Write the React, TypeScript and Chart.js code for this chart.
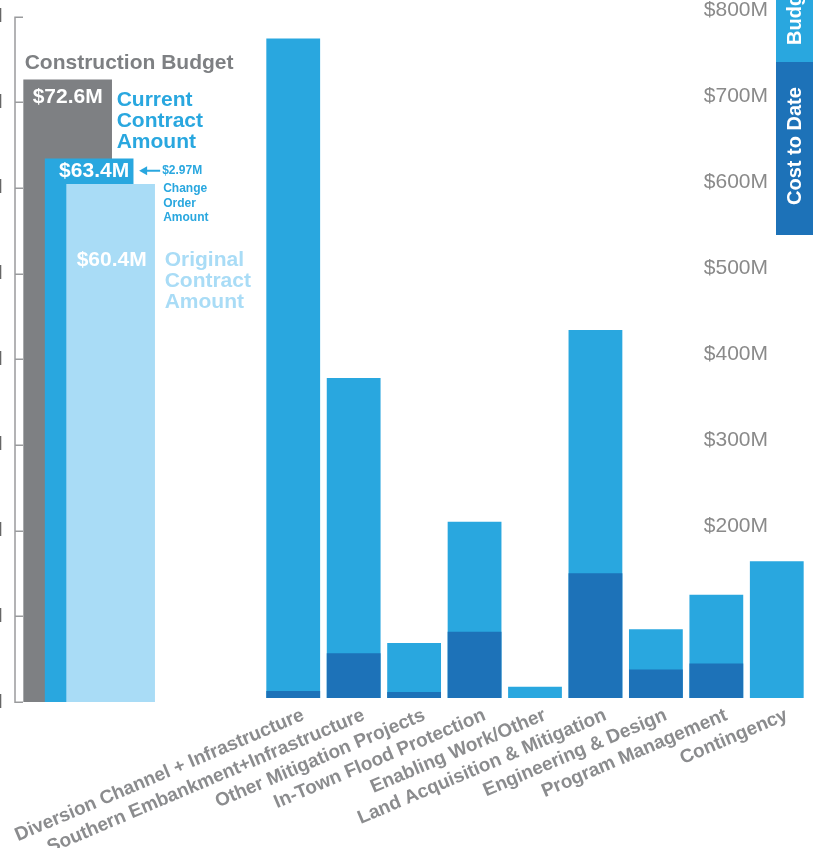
import React, { useEffect, useRef } from 'react';
import { Chart, registerables } from 'chart.js';

Chart.register(...registerables);

// ---------- data ----------
const categories = [
  'Diversion Channel + Infrastructure',
  'Southern Embankment+Infrastructure',
  'Other Mitigation Projects',
  'In-Town Flood Protection',
  'Enabling Work/Other',
  'Land Acquisition & Mitigation',
  'Engineering & Design',
  'Program Management',
  'Contingency',
];
const budget = [767, 372, 64, 205, 13, 428, 80, 120, 159];
const costToDate = [8, 52, 7, 77, 0, 145, 33, 40, 0];
const seriesNames = ['Cost to Date', 'Budget'];

const contractLabels = ['Construction Budget', 'Current Contract Amount', 'Original Contract Amount'];
const contractValues = [72.6, 63.4, 60.4];
const changeOrderAmount = 2.97;
const changeOrderLabel = ['Change', 'Order', 'Amount'];

// ---------- styles ----------
const FONT = "'Liberation Sans', Arial, Helvetica, sans-serif";
const BLUE = '#29a7df';
const DARK = '#1d72b8';
const GRAY = '#7e8083';
const LIGHT = '#a9dcf6';
const TEXT_GRAY = '#8b8c8e';
const AXIS_GRAY = '#9a9b9d';

const fmtM = (v: number) => `$${v.toFixed(1)}M`;

const sideLegend = {
  id: 'sideLegend',
  afterDraw(chart: any) {
    const ctx = chart.ctx;
    const w = 37;
    const x = chart.width - w;
    const ds = chart.data.datasets;
    const boxes = [
      { d: ds[1], y0: 0, y1: 62, textBottom: 45 },
      { d: ds[0], y0: 62, y1: 235, textBottom: 205 },
    ];
    ctx.save();
    boxes.forEach((b) => {
      ctx.fillStyle = b.d.backgroundColor;
      ctx.fillRect(x, b.y0, w, b.y1 - b.y0);
      ctx.save();
      ctx.translate(x + w / 2 + 0.5, b.textBottom);
      ctx.rotate(-Math.PI / 2);
      ctx.fillStyle = '#ffffff';
      ctx.font = `bold 20px ${FONT}`;
      ctx.textAlign = 'left';
      ctx.textBaseline = 'middle';
      ctx.fillText(b.d.label, 0, 0);
      ctx.restore();
    });
    ctx.restore();
  },
};

// ruler-style axis: vertical line with inward tick marks, from the y scale's own ticks
const ruler = {
  id: 'ruler',
  beforeDatasetsDraw(chart: any) {
    const ctx = chart.ctx;
    const s = chart.scales.y;
    const x = s.right;
    ctx.save();
    ctx.strokeStyle = AXIS_GRAY;
    ctx.lineWidth = 1.5;
    ctx.beginPath();
    ctx.moveTo(x, s.top);
    ctx.lineTo(x, s.bottom);
    s.ticks.forEach((_t: any, i: number) => {
      const y = Math.round(s.getPixelForTick(i)) + 0.25;
      ctx.moveTo(x - 0.75, y);
      ctx.lineTo(x + 8, y);
    });
    ctx.stroke();
    ctx.restore();
  },
};

const insetLabels = {
  id: 'insetLabels',
  afterDatasetsDraw(chart: any) {
    const ctx = chart.ctx;
    const els = chart.getDatasetMeta(0).data;
    const vals = chart.data.datasets[0].data.map((p: any) => p.y);
    const colors = chart.data.datasets[0].backgroundColor;
    const big = `bold 21px ${FONT}`;
    const small = `bold 12px ${FONT}`;
    ctx.save();
    ctx.textBaseline = 'middle';
    ctx.textAlign = 'left';

    // gray: construction budget
    const g = els[0];
    const gL = g.x - g.width / 2;
    const gR = g.x + g.width / 2;
    ctx.font = big;
    ctx.fillStyle = colors[0];
    ctx.fillText(contractLabels[0], gL + 1, g.y - 17);
    ctx.fillStyle = '#ffffff';
    ctx.fillText(fmtM(vals[0]), gL + 9, g.y + 17);

    // current contract label next to gray bar
    ctx.fillStyle = colors[1];
    ['Current', 'Contract', 'Amount'].forEach((t, i) => ctx.fillText(t, gR + 5, g.y + 20 + i * 21));

    // blue: current contract
    const b = els[1];
    const bR = b.x + b.width / 2;
    ctx.fillStyle = '#ffffff';
    ctx.textAlign = 'center';
    ctx.fillText(fmtM(vals[1]), b.x + 5, b.y + 12);

    // change order arrow + text
    ctx.fillStyle = colors[1];
    ctx.strokeStyle = colors[1];
    const ay = b.y + 12;
    const ax = bR + 6;
    ctx.beginPath();
    ctx.moveTo(ax, ay);
    ctx.lineTo(ax + 8, ay - 4.5);
    ctx.lineTo(ax + 8, ay + 4.5);
    ctx.closePath();
    ctx.fill();
    ctx.lineWidth = 2;
    ctx.beginPath();
    ctx.moveTo(ax + 7, ay);
    ctx.lineTo(ax + 21, ay);
    ctx.stroke();
    ctx.textAlign = 'left';
    ctx.font = small;
    ctx.fillText(`$${changeOrderAmount.toFixed(2)}M`, ax + 23, ay);
    changeOrderLabel.forEach((t, i) => ctx.fillText(t, ax + 24, ay + 18 + i * 14.5));

    // light: original contract
    const l = els[2];
    const lL = l.x - l.width / 2;
    const lR = l.x + l.width / 2;
    ctx.font = big;
    ctx.fillStyle = '#ffffff';
    ctx.fillText(fmtM(vals[2]), lL + 10, l.y + 76);
    ctx.fillStyle = colors[2];
    ['Original', 'Contract', 'Amount'].forEach((t, i) => ctx.fillText(t, lR + 10, l.y + 76 + i * 21));
    ctx.restore();
  },
};

export default function App() {
  const mainRef = useRef<HTMLCanvasElement>(null);
  const insetRef = useRef<HTMLCanvasElement>(null);

  useEffect(() => {
    const main = new Chart(mainRef.current as HTMLCanvasElement, {
      type: 'bar',
      data: {
        labels: categories,
        datasets: [
          {
            label: seriesNames[0],
            data: costToDate,
            backgroundColor: DARK,
            grouped: false,
            order: 0,
            categoryPercentage: 1,
            barPercentage: 0.89,
          },
          {
            label: seriesNames[1],
            data: budget,
            backgroundColor: BLUE,
            grouped: false,
            order: 1,
            categoryPercentage: 1,
            barPercentage: 0.89,
          },
        ],
      } as any,
      options: {
        responsive: false,
        maintainAspectRatio: false,
        animation: false,
        layout: { padding: { top: 10, left: 263, right: 0, bottom: 0 } },
        plugins: { legend: { display: false }, tooltip: { enabled: false } },
        scales: {
          x: {
            grid: { display: false, drawTicks: false },
            border: { display: false },
            ticks: {
              autoSkip: false,
              maxRotation: 23,
              minRotation: 23,
              padding: 6,
              labelOffset: 10,
              color: TEXT_GRAY,
              font: { family: FONT, size: 19, weight: 'bold' },
            },
            afterFit: (s: any) => {
              s.height = 150;
              s.paddingLeft = 0;
              s.paddingRight = 0;
            },
          },
          y: {
            position: 'right',
            min: 0,
            max: 800,
            grid: { display: false, drawTicks: false },
            border: { display: false },
            ticks: {
              stepSize: 100,
              mirror: true,
              padding: -39,
              color: '#8a8a8a',
              font: { family: FONT, size: 21 },
              callback: (v: any) => (v >= 200 ? `$${v}M` : ''),
            },
            afterFit: (s: any) => {
              s.width = 6;
              s.paddingTop = 0;
              s.paddingBottom = 0;
            },
          },
        },
      } as any,
      plugins: [sideLegend],
    });

    const inset = new Chart(insetRef.current as HTMLCanvasElement, {
      type: 'bar',
      data: {
        labels: contractLabels,
        datasets: [
          {
            label: 'Construction',
            data: contractValues.map((v, i) => ({ x: i, y: v })),
            backgroundColor: [GRAY, BLUE, LIGHT],
            barThickness: 88,
          },
        ],
      } as any,
      options: {
        responsive: false,
        maintainAspectRatio: false,
        animation: false,
        layout: { padding: { top: 16.5, bottom: 146, left: 0, right: 0 } },
        plugins: { legend: { display: false }, tooltip: { enabled: false } },
        scales: {
          x: { type: 'linear', min: -2.45, max: 8.95, offset: false, display: false },
          y: {
            min: 0,
            max: 80,
            ticks: {
              stepSize: 10,
              padding: 12,
              color: '#666666',
              font: { family: FONT, size: 20 },
              callback: (v: any) => `$${v}M`,
            },
            grid: { display: false, drawTicks: false },
            border: { display: false },
            afterFit: (s: any) => {
              s.width = 55;
              s.paddingTop = 0;
              s.paddingBottom = 0;
            },
          },
        },
      } as any,
      plugins: [ruler, insetLabels],
    });

    return () => {
      main.destroy();
      inset.destroy();
    };
  }, []);

  return (
    <div
      style={{
        position: 'fixed',
        left: 0,
        top: 0,
        width: 813,
        height: 848,
        overflow: 'hidden',
        background: '#ffffff',
      }}
    >
      <canvas
        ref={mainRef}
        width={813}
        height={848}
        style={{ position: 'absolute', left: 0, top: 0, display: 'block' }}
      />
      <canvas
        ref={insetRef}
        width={300}
        height={848}
        style={{ position: 'absolute', left: -40, top: 0, display: 'block' }}
      />
    </div>
  );
}
